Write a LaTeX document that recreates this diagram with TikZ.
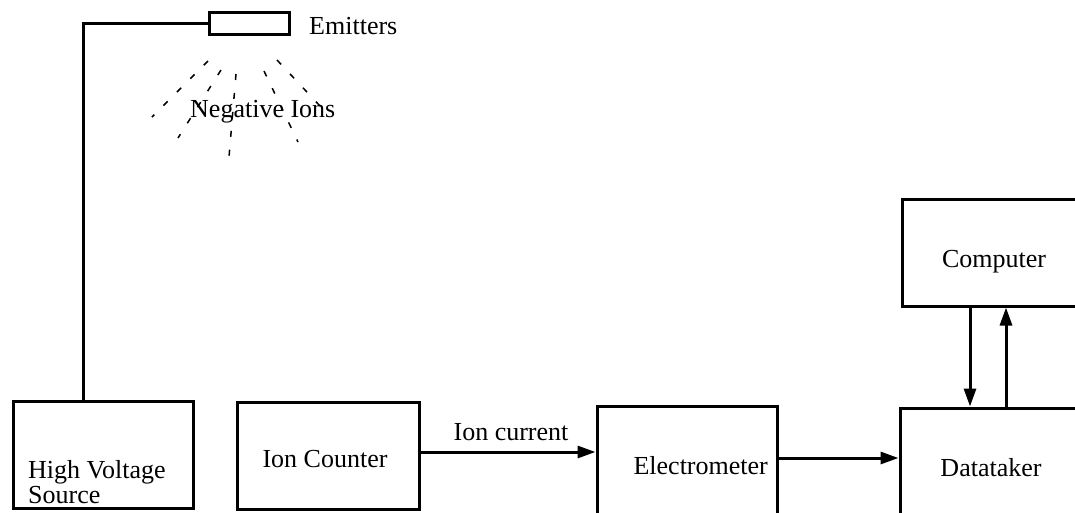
\documentclass[tikz,border=0pt]{standalone}
\usepackage{fontspec}
\setmainfont{Liberation Serif}
\usetikzlibrary{arrows.meta}
\begin{document}
\begin{tikzpicture}[x=1pt,y=-1pt,
  box/.style={draw, line width=3pt, rectangle, inner sep=0pt},
  wire/.style={line width=3pt},
  arr/.style={line width=3pt, -{Triangle[length=18pt,width=12pt]}},
  ray/.style={line width=1.5pt, dash pattern=on 6pt off 13pt},
  lbl/.style={font=\fontsize{26}{25}\selectfont, inner sep=0pt}]
\useasboundingbox (0,0) rectangle (1075,512);
\clip (0,0) rectangle (1075,512);
% boxes
\node[box, minimum width=80pt, minimum height=22pt] (emit) at (249,23) {};
\node[box, minimum width=180pt, minimum height=107pt] (hv) at (103.5,454.5) {};
\node[box, minimum width=182pt, minimum height=107pt] (ic) at (328,456) {};
\node[box, minimum width=180pt, minimum height=110pt] (el) at (687,461) {};
\node[box, minimum width=190pt, minimum height=112pt] (dt) at (995,464) {};
\node[box, minimum width=188pt, minimum height=107pt] (comp) at (996,252.5) {};
% texts
\node[lbl, anchor=base west] (emtxt) at (309,34) {Emitters};
\node[lbl, anchor=base west] (neg) at (190,117) {Negative Ions};
\node[lbl, anchor=base west] (hvt1) at (28,478) {High Voltage};
\node[lbl, anchor=base west] (hvt2) at (28,503) {Source};
\node[lbl, anchor=base] (ictxt) at (325,467) {Ion Counter};
\node[lbl, anchor=base east] (eltxt) at (768,474) {Electrometer};
\node[lbl, anchor=base] (dttxt) at (991,476) {Datataker};
\node[lbl, anchor=base] (comptxt) at (994,267) {Computer};
\node[lbl, anchor=base] (curtxt) at (511,440) {Ion current};
% wire
\coordinate (bend) at (83,23);
\draw[wire] (emit.west) -- (bend) -- (bend |- hv.north);
% arrows
\draw[arr] ([yshift=4pt]ic.east) -- ([yshift=4pt]ic.east -| el.west);
\draw[arr] ([yshift=3pt]el.east) -- ([yshift=3pt]el.east -| dt.west);
\draw[arr] ([xshift=-26pt]comp.south) -- ([xshift=-25pt]dt.north);
\draw[arr] ([xshift=11pt]dt.north) -- ([xshift=10pt]comp.south);
% ion rays
\coordinate (r1a) at (208,61); \coordinate (r1b) at (152,117);
\coordinate (r2a) at (221,70); \coordinate (r2b) at (178,138);
\coordinate (r3a) at (236,74); \coordinate (r3b) at (229,157);
\coordinate (r4a) at (264,71); \coordinate (r4b) at (298,142);
\coordinate (r5a) at (277,60); \coordinate (r5b) at (320,106);
\draw[ray] (r1a) -- (r1b);
\draw[ray] (r2a) -- (r2b);
\draw[ray] (r3a) -- (r3b);
\draw[ray] (r4a) -- (r4b);
\draw[ray] (r5a) -- (r5b);
\end{tikzpicture}
\end{document}
